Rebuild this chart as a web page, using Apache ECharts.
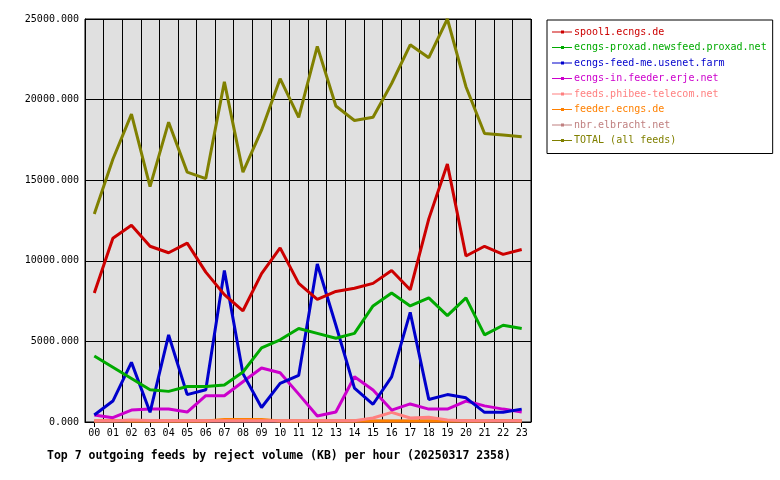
<!DOCTYPE html><html><head><meta charset="utf-8"><script src="https://cdn.jsdelivr.net/npm/echarts@6/dist/echarts.min.js"></script></head><body style="margin:0;background:#fff"><div id="c" style="width:780px;height:480px"></div><script>
const hours=['00','01','02','03','04','05','06','07','08','09','10','11','12','13','14','15','16','17','18','19','20','21','22','23'];
const names=['spool1.ecngs.de','ecngs-proxad.newsfeed.proxad.net','ecngs-feed-me.usenet.farm','ecngs-in.feeder.erje.net','feeds.phibee-telecom.net','feeder.ecngs.de','nbr.elbracht.net','TOTAL (all feeds)'];
const colors=['#cc0000','#00aa00','#0000cc','#cc00cc','#ff8080','#ff8000','#c08080','#808000'];
const spool1=[8000,11400,12200,10900,10500,11100,9300,7900,6900,9200,10800,8600,7600,8100,8300,8600,9400,8200,12600,16000,10300,10900,10400,10700];
const proxad=[4100,3400,2700,2000,1900,2200,2200,2300,3100,4600,5100,5800,5500,5200,5500,7200,8000,7200,7700,6600,7700,5400,6000,5800];
const usenet=[430,1300,3700,600,5400,1700,2000,9400,3000,900,2400,2900,9800,6000,2100,1100,2800,6800,1400,1700,1500,600,600,800];
const erje=[430,270,740,800,800,620,1630,1630,2500,3350,3060,1730,370,620,2810,1990,740,1120,800,800,1300,1000,800,620];
const phibee=[80,80,120,100,80,80,80,80,80,80,80,80,80,80,80,250,600,250,300,120,80,80,80,80];
const feeder=[60,100,60,60,60,60,60,150,150,150,60,60,60,60,60,60,60,60,60,60,60,60,100,60];
const nbr=[60,60,60,60,60,60,60,60,60,60,60,60,60,60,60,60,60,60,60,60,60,60,60,60];
const total=[12900,16300,19100,14600,18600,15500,15100,21100,15500,18100,21300,18900,23300,19600,18700,18900,21000,23400,22600,25000,20800,17900,17800,17700];
const all=[spool1,proxad,usenet,erje,phibee,feeder,nbr,total];
const font='DejaVu Sans Mono';
const icon='path://M0,4h20v1H0z M9,3h3v3H9z';
const ch=echarts.init(document.getElementById('c'));
ch.setOption({
 animation:false,
 color:colors,
 title:{text:'Top 7 outgoing feeds by reject volume (KB) per hour (20250317 2358)',left:42,top:445,textStyle:{fontFamily:font,fontSize:11.5,fontWeight:'bold',color:'#000'}},
 legend:{orient:'vertical',left:547,top:20,width:224,padding:[7,6,8,5],itemGap:5.5,itemWidth:20,itemHeight:8,borderColor:'#000',borderWidth:1,icon:icon,
  data:names.map((n,i)=>({name:n,textStyle:{color:colors[i]}})),textStyle:{fontFamily:font,fontSize:10,padding:[0,0,0,-3]}},
 grid:{left:85,right:249,top:19,bottom:58,backgroundColor:'#e0e0e0',show:true,borderColor:'#000',borderWidth:1},
 xAxis:{type:'category',data:hours,boundaryGap:true,axisLine:{lineStyle:{color:'#000'}},axisTick:{show:true,alignWithLabel:true,lineStyle:{color:'#000'}},
  splitLine:{show:true,interval:0,lineStyle:{color:'#000'}},axisLabel:{fontFamily:font,fontSize:10,color:'#000',interval:0,margin:6}},
 yAxis:{type:'value',min:0,max:25000,interval:5000,axisLine:{show:true,lineStyle:{color:'#000'}},axisTick:{show:false},
  splitLine:{lineStyle:{color:'#000'}},axisLabel:{fontFamily:font,fontSize:10,color:'#000',margin:6,formatter:v=>v.toFixed(3)}},
 series:all.map((d,i)=>({name:names[i],type:'line',data:d,symbol:'none',lineStyle:{width:3,color:colors[i]},z:10-i}))
});
</script></body></html>
